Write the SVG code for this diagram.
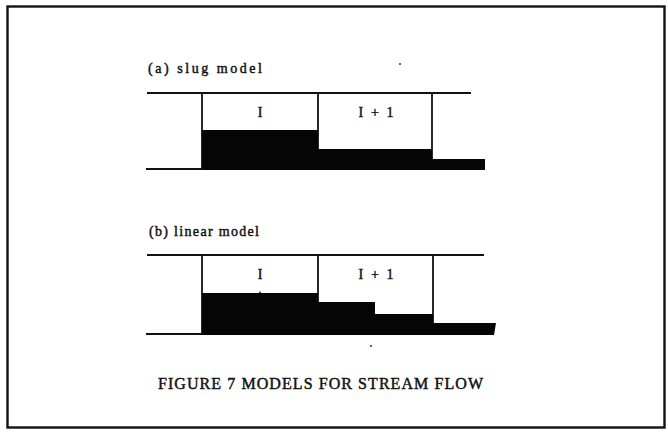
<svg xmlns="http://www.w3.org/2000/svg" width="668" height="435" viewBox="0 0 668 435">
  <style>
    .frame { fill: none; stroke: #111; stroke-width: 2.4; }
    .ln { stroke: #111; stroke-width: 1.8; fill: none; }
    .fill { fill: #050505; }
    text { font-family: "Liberation Serif", "DejaVu Serif", serif; fill: #111; stroke: #111; stroke-width: 0.45; }
    .lbl { font-size: 14px; }
    .cell { font-size: 14px; text-anchor: middle; }
    .cap { font-size: 16px; }
  </style>

  <rect class="frame" x="7.5" y="6.5" width="657" height="421"/>

  <!-- (a) slug model: uniform level inside each cell -->
  <g id="slug-model">
    <text class="lbl" x="148" y="73" textLength="114" lengthAdjust="spacing">(a) slug model</text>
    <line class="ln" x1="147" y1="93" x2="471" y2="93"/>
    <line class="ln" x1="146" y1="169" x2="202" y2="169"/>
    <line class="ln" x1="202" y1="169" x2="202" y2="93"/>
    <line class="ln" x1="318" y1="93" x2="318" y2="150"/>
    <line class="ln" x1="432" y1="93" x2="432" y2="160"/>
    <polygon class="fill" points="202,130 318,130 318,149 432,149 432,159 485,159 485,170 202,170"/>
    <text class="cell" x="260" y="117">I</text>
    <text class="cell" x="376" y="117" textLength="35" lengthAdjust="spacing" xml:space="preserve">I + 1</text>
  </g>

  <!-- (b) linear model: level steps within each cell -->
  <g id="linear-model">
    <text class="lbl" x="149" y="236" textLength="110" lengthAdjust="spacing">(b) linear model</text>
    <line class="ln" x1="147" y1="255" x2="484" y2="255"/>
    <line class="ln" x1="146" y1="334" x2="202" y2="334"/>
    <line class="ln" x1="202" y1="334" x2="202" y2="255"/>
    <line class="ln" x1="318" y1="255" x2="318" y2="302"/>
    <line class="ln" x1="433" y1="255" x2="433" y2="323"/>
    <polygon class="fill" points="202,293 259,293 260,291 261,293 318,293 318,302 375,302 375,314 433,314 433,323 496,323 494,335 202,335"/>
    <text class="cell" x="260" y="279">I</text>
    <text class="cell" x="376" y="279" textLength="35" lengthAdjust="spacing" xml:space="preserve">I + 1</text>
  </g>

  <!-- specks -->
  <circle cx="400" cy="64" r="0.9" fill="#222"/>
  <circle cx="371" cy="346" r="0.9" fill="#222"/>

  <text class="cap" x="158" y="389" textLength="325" lengthAdjust="spacing">FIGURE 7 MODELS FOR STREAM FLOW</text>
</svg>
